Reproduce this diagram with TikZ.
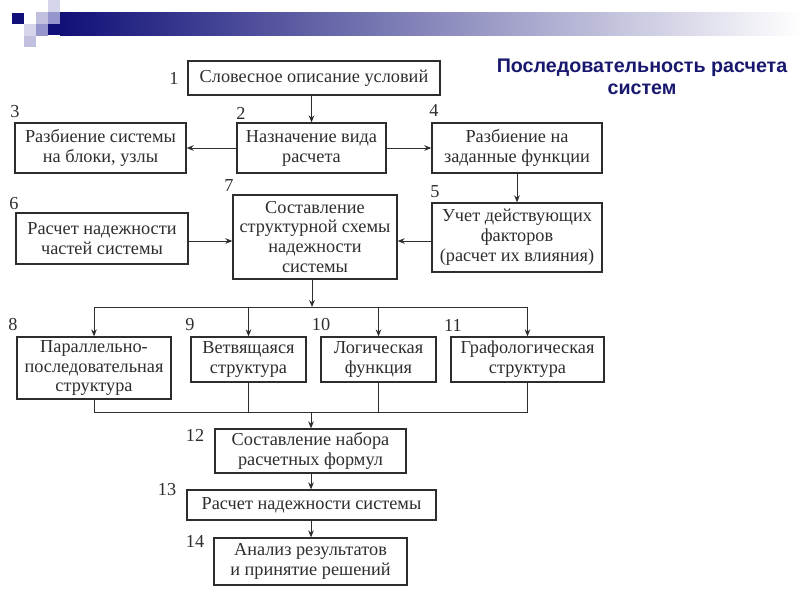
\documentclass[tikz,border=0pt]{standalone}
\usepackage{fontspec}
\setmainfont{Liberation Serif}
\newfontfamily\titlefont{Liberation Sans}
\usepackage{tikz}
\usetikzlibrary{arrows.meta}
\definecolor{navy}{RGB}{16,16,120}
\definecolor{ink}{RGB}{45,45,45}
\definecolor{titleblue}{RGB}{24,24,110}
\definecolor{sqpale}{RGB}{212,212,234}
\definecolor{sqmid}{RGB}{150,150,204}
\definecolor{sqlight}{RGB}{192,192,222}

\begin{document}
\begin{tikzpicture}[x=0.025cm, y=-0.025cm,
      arr/.style={-{Stealth[length=5pt,width=4pt]}, line width=0.7pt, draw=ink},
      wire/.style={line width=0.7pt, draw=ink},
      box/.style={draw=ink, line width=0.9pt, text=ink, align=center,
                  inner sep=2pt, font=\fontsize{13}{14.2}\selectfont},
      num/.style={text=ink, inner sep=0pt, font=\fontsize{13}{14}\selectfont},
    ]
    \useasboundingbox (0,0) rectangle (800,600);

    % header band
    \shade[left color=navy, right color=white] (60,12) rectangle (800,35);
    \fill[navy]    (12,13) rectangle (24,24);
    \fill[sqpale]  (48,0)  rectangle (60,12);
    \fill[sqlight] (36,12) rectangle (48,24);
    \fill[sqmid]   (48,12) rectangle (60,24);
    \fill[sqpale]  (24,24) rectangle (36,36);
    \fill[sqmid]   (36,24) rectangle (48,36);
    \fill[navy]    (48,24) rectangle (60,35);
    \fill[sqlight] (24,36) rectangle (36,47);

    \node[font=\titlefont\bfseries\fontsize{14}{16}\selectfont, text=titleblue, align=center]
      (title) at (642,77) {Последовательность расчета\\систем};

    \node[box, minimum width=6.3cm, minimum height=0.85cm] (b1) at (314,78) {Словесное описание условий};
    \node[box, minimum width=3.725cm, minimum height=1.25cm] (b2) at (311.5,148) {Назначение вида\\расчета};
    \node[box, minimum width=4.275cm, minimum height=1.25cm] (b3) at (100.5,148) {Разбиение системы\\на блоки, узлы};
    \node[box, minimum width=4.25cm, minimum height=1.25cm] (b4) at (517,148) {Разбиение на\\заданные функции};
    \node[box, minimum width=4.25cm, minimum height=1.725cm] (b5) at (517,237.5) {Учет действующих\\факторов\\(расчет их влияния)};
    \node[box, minimum width=4.3cm, minimum height=1.275cm] (b6) at (102,238.5) {Расчет надежности\\частей системы};
    \node[box, minimum width=4.1cm, minimum height=2.1cm] (b7) at (315,237) {Составление\\структурной схемы\\надежности\\системы};
    \node[box, minimum width=3.85cm, minimum height=1.55cm] (b8) at (94,368) {Параллельно-\\последовательная\\структура};
    \node[box, minimum width=2.875cm, minimum height=1.125cm] (b9) at (248.5,359.5) {Ветвящаяся\\структура};
    \node[box, minimum width=2.875cm, minimum height=1.125cm] (b10) at (378.5,359.5) {Логическая\\функция};
    \node[box, minimum width=3.825cm, minimum height=1.125cm] (b11) at (527.5,359.5) {Графологическая\\структура};
    \node[box, minimum width=4.775cm, minimum height=1.1cm] (b12) at (310.5,451) {Составление набора\\расчетных формул};
    \node[box, minimum width=6.225cm, minimum height=0.75cm] (b13) at (311.5,505) {Расчет надежности системы};
    \node[box, minimum width=4.825cm, minimum height=1.175cm] (b14) at (310.5,561.5) {Анализ результатов\\и принятие решений};

    \node[num] (n1) at (174,78) {1};
    \node[num] (n2) at (241,113) {2};
    \node[num] (n3) at (15,112) {3};
    \node[num] (n4) at (434,110) {4};
    \node[num] (n5) at (435,192) {5};
    \node[num] (n6) at (14,204) {6};
    \node[num] (n7) at (229,186) {7};
    \node[num] (n8) at (13,325) {8};
    \node[num] (n9) at (190,325) {9};
    \node[num] (n10) at (321,325) {10};
    \node[num] (n11) at (453,325) {11};
    \node[num] (n12) at (195,435) {12};
    \node[num] (n13) at (167,490) {13};
    \node[num] (n14) at (195,541) {14};

    \coordinate (busTop) at (312,307);
    \coordinate (busBot) at (311,412);

    \draw[arr] (b1.south -| b2.north) -- (b2.north);
    \draw[arr] (b2.west) -- (b3.east);
    \draw[arr] (b2.east) -- (b4.west);
    \draw[arr] (b4.south) -- (b5.north);
    \draw[arr] (b5.west |- 0,241) -- (b7.east |- 0,241);
    \draw[arr] (b6.east |- 0,241) -- (b7.west |- 0,241);
    \draw[arr] (b7.south -| busTop) -- (busTop);
    \draw[wire] (b8.north |- busTop) -- (b11.north |- busTop);
    \foreach \b in {b8,b9,b10,b11}
      \draw[arr] (\b.north |- busTop) -- (\b.north);
    \foreach \b in {b8,b9,b10,b11}
      \draw[wire] (\b.south) -- (\b.south |- busBot);
    \draw[wire] (b8.south |- busBot) -- (b11.south |- busBot);
    \draw[arr] (busBot) -- (b12.north -| busBot);
    \draw[arr] (b12.south -| busBot) -- (b13.north -| busBot);
    \draw[arr] (b13.south -| busBot) -- (b14.north -| busBot);
  \end{tikzpicture}
\end{document}
